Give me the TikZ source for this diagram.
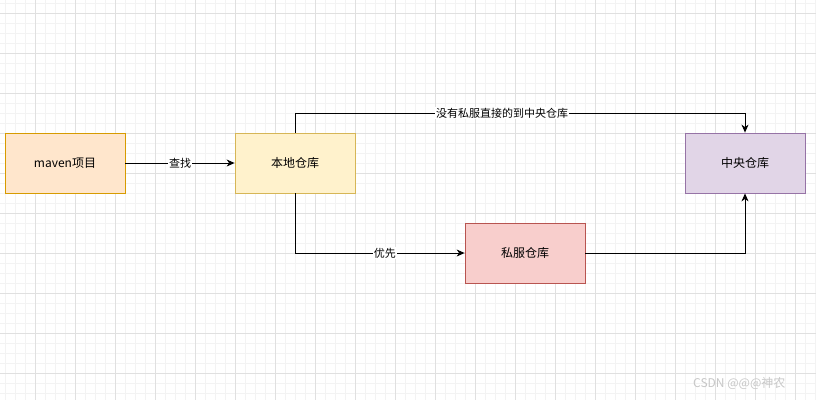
\documentclass[tikz,border=0pt]{standalone}
\usepackage{fontspec}
\setmainfont{Liberation Sans}
\newfontfamily\cjk{Noto Sans CJK SC}
\usetikzlibrary{arrows.meta}
\definecolor{gmajor}{HTML}{E0E0E0}
\definecolor{gminor}{HTML}{F3F3F3}
\definecolor{orfill}{HTML}{FFE6CC}\definecolor{ordraw}{HTML}{D79B00}
\definecolor{yefill}{HTML}{FFF2CC}\definecolor{yedraw}{HTML}{D6B656}
\definecolor{pufill}{HTML}{E1D5E7}\definecolor{pudraw}{HTML}{9673A6}
\definecolor{refill}{HTML}{F8CECC}\definecolor{redraw}{HTML}{B85450}
\tikzset{
  box/.style={draw, minimum width=120pt, minimum height=60pt, inner sep=0pt, font=\cjk\fontsize{12}{14}\selectfont, line width=0.8pt},
  conn/.style={draw, line width=0.9pt, -{Stealth[length=8pt,width=7pt,inset=2.5pt]}},
  lbl/.style={fill=white, inner sep=1pt, font=\cjk\fontsize{11}{13}\selectfont},
}
\begin{document}
\begin{tikzpicture}[x=1pt,y=-1pt]
\useasboundingbox (0,0) rectangle (816,400);
\fill[white] (0,0) rectangle (816,400);
% minor grid
\foreach \x in {5,15,...,815} \draw[gminor, line width=0.8pt] (\x,0) -- (\x,400);
\foreach \y in {3,13,...,400} \draw[gminor, line width=0.8pt] (0,\y) -- (816,\y);
% major grid
\foreach \x in {35,75,...,815} \draw[gmajor, line width=0.8pt] (\x,0) -- (\x,400);
\foreach \y in {13,53,...,400} \draw[gmajor, line width=0.8pt] (0,\y) -- (816,\y);

\node[box, fill=orfill, draw=ordraw] (maven) at (65,163) {maven项目};
\node[box, fill=yefill, draw=yedraw] (local) at (295,163) {本地仓库};
\node[box, fill=pufill, draw=pudraw] (central) at (745,163) {中央仓库};
\node[box, fill=refill, draw=redraw] (private) at (525,253) {私服仓库};

\coordinate (c1) at (295,113);
\coordinate (c2) at (745,113);
\coordinate (c3) at (295,253);
\coordinate (c4) at (745,253);

\draw[conn] (maven) -- node[lbl] {查找} (local);
\draw[conn] (local.north) -- (c1) -- node[lbl, pos=0.46] {没有私服直接的到中央仓库} (c2) -- (central.north);
\draw[conn] (local.south) -- (c3) -- node[lbl, pos=0.53] {优先} (private.west);
\draw[conn] (private.east) -- (c4) -- (central.south);

\node[text=black!22, font=\cjk\fontsize{12}{14}\selectfont, anchor=west, inner sep=0pt] (wm) at (693,383) {CSDN @@@神农};
\end{tikzpicture}
\end{document}
